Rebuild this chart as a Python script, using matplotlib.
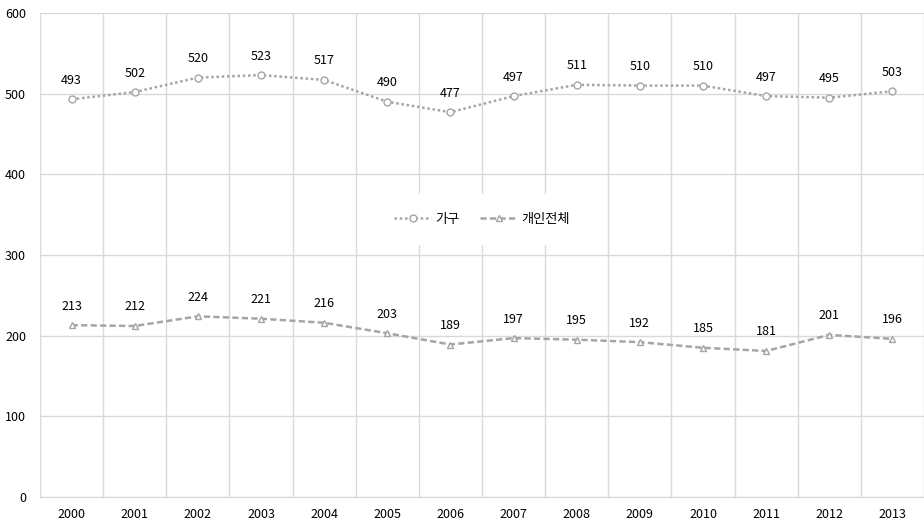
import matplotlib.pyplot as plt
import numpy as np

plt.rcParams['font.family'] = ['Noto Sans CJK KR', 'DejaVu Sans']

years = ['2000', '2001', '2002', '2003', '2004', '2005', '2006',
         '2007', '2008', '2009', '2010', '2011', '2012', '2013']
household = [493, 502, 520, 523, 517, 490, 477, 497, 511, 510, 510, 497, 495, 503]
individual = [213, 212, 224, 221, 216, 203, 189, 197, 195, 192, 185, 181, 201, 196]

x = np.arange(len(years))
grid_c = '#d9d9d9'
line_c = '#a5a5a5'

fig = plt.figure(figsize=(9.24, 5.23), dpi=100)
ax = fig.add_axes([40 / 924, 26 / 523, 884 / 924, 484 / 523])

ax.plot(x, household, linestyle=(0, (1, 1.1)), color=line_c, lw=1.8,
        marker='o', ms=5, mfc='white', mec=line_c, mew=1.0, label='가구')
ax.plot(x, individual, linestyle=(0, (2.5, 1.3)), color=line_c, lw=1.8,
        marker='^', ms=5, mfc='white', mec=line_c, mew=1.0, label='개인전체')

for xi, v in zip(x, household):
    ax.annotate(str(v), (xi, v), textcoords='offset points', xytext=(0, 9),
                ha='center', va='bottom', fontsize=9, color='#000000')
for xi, v in zip(x, individual):
    ax.annotate(str(v), (xi, v), textcoords='offset points', xytext=(0, 9),
                ha='center', va='bottom', fontsize=9, color='#000000')

ax.set_xlim(-0.5, 13.5)
ax.set_ylim(0, 600)
ax.set_yticks(np.arange(0, 601, 100))
ax.set_xticks(x)
ax.set_xticklabels(years)
ax.set_xticks(np.arange(-0.5, 13.6, 1), minor=True)
ax.grid(True, which='major', axis='y', color=grid_c, lw=1)
ax.grid(True, which='minor', axis='x', color=grid_c, lw=1)
ax.set_axisbelow(True)
ax.tick_params(which='both', length=0, labelsize=9, colors='#000000')
ax.tick_params(axis='y', pad=10)
ax.tick_params(axis='x', pad=8)
for s in ['top', 'right', 'left']:
    ax.spines[s].set_visible(False)
ax.spines['bottom'].set_color(grid_c)

leg = ax.legend(loc='center', bbox_to_anchor=(0.5, 0.574), ncol=2, frameon=True,
                fontsize=9.5, handlelength=2.8, numpoints=1, columnspacing=1.6,
                borderpad=1.4, handletextpad=0.3)
leg.get_frame().set_facecolor('white')
leg.get_frame().set_edgecolor('white')
leg.get_frame().set_alpha(1)
leg.get_frame().set_boxstyle('square', pad=0)

fig.savefig('out.png', dpi=100)
